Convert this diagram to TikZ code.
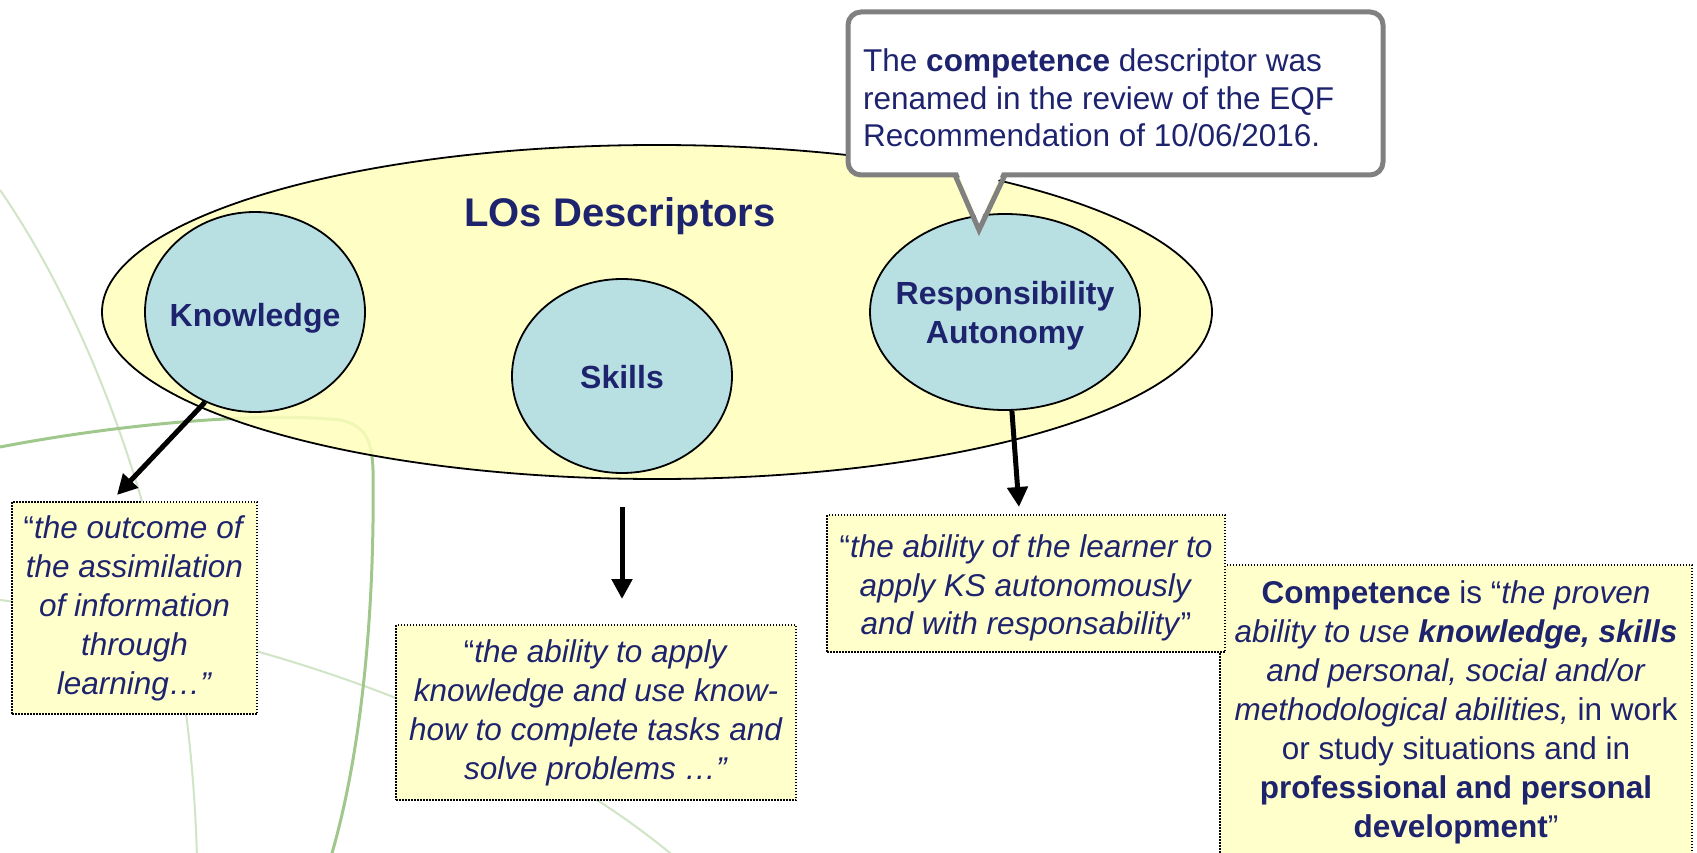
\documentclass[tikz,border=0pt]{standalone}
\usepackage{fontspec}
\setmainfont{Liberation Sans}
\usetikzlibrary{shapes.geometric,arrows.meta}
\definecolor{navy}{RGB}{30,35,110}
\definecolor{eyellow}{RGB}{255,255,187}
\definecolor{byellow}{RGB}{255,255,204}
\definecolor{cblue}{RGB}{184,223,226}
\definecolor{cgray}{RGB}{128,128,128}
\definecolor{gdark}{RGB}{160,200,140}
\definecolor{glight}{RGB}{208,228,198}
\begin{document}
\begin{tikzpicture}[x=1pt,y=-1pt,
  bigell/.style={ellipse, draw=black, line width=1.8pt, fill=eyellow, fill opacity=0.85, inner sep=0pt},
  circ/.style={ellipse, draw=black, line width=1.8pt, fill=cblue, inner sep=0pt},
  circlabel/.style={text=navy, inner sep=0pt, align=center,
    font=\fontsize{32}{39}\selectfont\bfseries},
  quotebox/.style={draw=black, line width=1.5pt, dash pattern=on 1.5pt off 1.5pt, fill=byellow,
    inner sep=0pt, align=center, text=navy, font=\fontsize{31.5}{39}\selectfont},
  quotetext/.style={inner sep=0pt, align=center, text=navy, font=\fontsize{31.5}{38.5}\selectfont},
  arr/.style={line width=5pt, -{Triangle[length=20pt,width=20pt]}},
  callbox/.style={draw=cgray, line width=5pt, fill=white, rounded corners=13pt, inner sep=0pt},
  calltext/.style={text=navy, align=left, inner sep=0pt, font=\fontsize{31.5}{37.5}\selectfont},
  title/.style={text=navy, inner sep=0pt, font=\fontsize{40}{44}\selectfont\bfseries},
  gthick/.style={draw=gdark, line width=3pt},
  gthin/.style={draw=glight, line width=2pt}
]
\useasboundingbox (0,0) rectangle (1697,853);
\clip (0,0) rectangle (1697,853);
\fill[white] (0,0) rectangle (1697,853);

% background curves
\draw[gthin] (0,190) .. controls (90,320) and (190,560) .. (197,860);
\draw[gthin] (0,600) .. controls (250,630) and (520,720) .. (690,870);
\draw[gthick] (0,447) .. controls (130,422) and (270,412) .. (340,420)
  .. controls (365,425) and (372,440) .. (373,470)
  .. controls (375,620) and (360,760) .. (330,860);

% main ellipse and descriptors
\node[bigell, minimum width=1110pt, minimum height=334pt] (lo) at (657,312) {};
\node[title] (ttl) at (620,216) {LOs Descriptors};
\node[circ, minimum width=220pt, minimum height=200pt] (know) at (255,312) {};
\node[circ, minimum width=220pt, minimum height=194pt] (skills) at (622,376) {};
\node[circ, minimum width=270pt, minimum height=196pt] (resp) at (1005,312) {};
\node[circlabel] (knowlbl) at (255,318) {Knowledge};
\node[circlabel] (skillslbl) at (622,377) {Skills};
\node[circlabel] (resplbl) at (1005,316) {Responsibility\\Autonomy};

% quote boxes
\node[quotebox, minimum width=245pt, minimum height=212pt] (kbox) at (134.5,608)
  {“\textit{the outcome of}\\\textit{the assimilation}\\\textit{of information}\\\textit{through}\\\textit{learning…”}};
\node[quotebox, minimum width=400pt, minimum height=175pt] (sbox) at (596,712.5)
  {“\textit{the ability to apply}\\\textit{knowledge and use know-}\\\textit{how to complete tasks and}\\\textit{solve problems …”}};
\node[quotebox, minimum width=472pt, minimum height=294pt] (cbox) at (1456,712)
  {\textbf{Competence} is “\textit{the proven}\\\textit{ability to use \textbf{knowledge, skills}}\\\textit{and personal, social and/or}\\\textit{methodological abilities,} in work\\or study situations and in\\\textbf{professional and personal}\\\textbf{development}”};
\node[quotebox, minimum width=398pt, minimum height=137pt] (rbox) at (1026,583.5) {};
\node[quotetext] (rtext) at (1026,588)
  {“\textit{the ability of the learner to}\\\textit{apply KS autonomously}\\\textit{and with responsability}”};

% arrows
\coordinate (ktip) at (117,495);
\coordinate (stop) at (622,507);
\coordinate (stip) at (622,599);
\coordinate (rtip) at (1019,507);
\draw[arr] (know.241) -- (ktip);
\draw[arr] (stop) -- (stip);
\draw[arr] (resp.274) -- (rtip);

% callout
\node[callbox, minimum width=535pt, minimum height=163pt] (callout) at (1115.5,93.5) {};
\coordinate (pl) at (955,175);
\coordinate (pr) at (1005,175);
\coordinate (ptip) at (979,230);
\fill[white] (957,170) -- (979,224) -- (1003,170) -- cycle;
\draw[cgray, line width=5pt, line join=miter] (pl) -- (ptip) -- (pr);
\node[calltext, anchor=west] (ctext) at (863,98)
  {The \textbf{competence} descriptor was\\renamed in the review of the EQF\\Recommendation of 10/06/2016.};
\end{tikzpicture}
\end{document}
